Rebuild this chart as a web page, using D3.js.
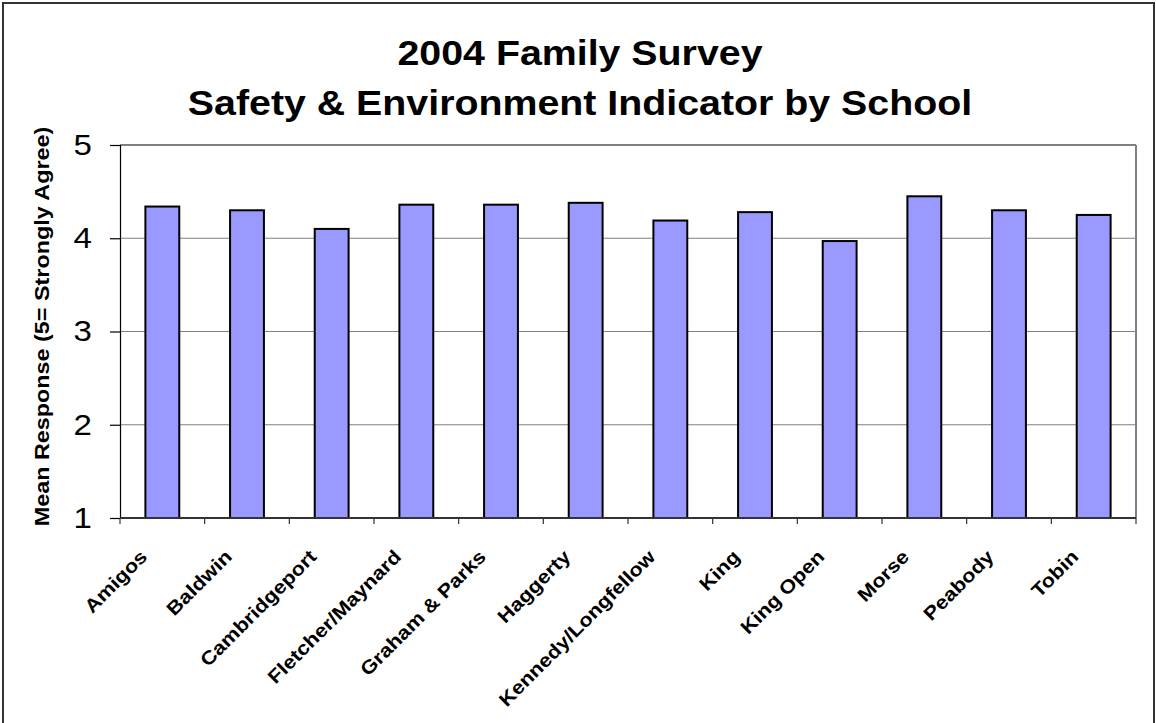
<!DOCTYPE html>
<html>
<head>
<meta charset="utf-8">
<script src="https://cdn.jsdelivr.net/npm/d3@7"></script>
<style>
  body { margin: 0; background: #fff; }
  svg { display: block; }
</style>
</head>
<body>
<div id="chart"></div>
<script>
// dữ liệu
const schools = ["Amigos", "Baldwin", "Cambridgeport", "Fletcher/Maynard", "Graham & Parks",
    "Haggerty", "Kennedy/Longfellow", "King", "King Open", "Morse", "Peabody", "Tobin"];
const meanResponse = [4.34, 4.30, 4.10, 4.36, 4.36, 4.38, 4.19, 4.28, 3.97, 4.45, 4.30, 4.25];
const yTicks = [1, 2, 3, 4, 5];
const titleLines = ["2004 Family Survey", "Safety & Environment Indicator by School"];

const width = 1156, height = 723;
const plot = { left: 120, right: 1136, top: 145, bottom: 518 };
const font = "'Liberation Sans', Arial, sans-serif";
// chữ trong ảnh gốc rộng hơn Arial một chút
const stretch = 1.14;

const svg = d3.select("#chart")
    .append("svg")
    .attr("width", width)
    .attr("height", height)
    .style("font-family", font);

// khung ngoài của chart
svg.append("rect")
    .attr("x", 3)
    .attr("y", 3)
    .attr("width", 1151)
    .attr("height", 740)
    .attr("fill", "#fff")
    .attr("stroke", "#333")
    .attr("stroke-width", 2);

const x = d3.scaleBand()
    .domain(schools)
    .range([plot.left, plot.right])
    .paddingInner(0.6)
    .paddingOuter(0.3);

const y = d3.scaleLinear()
    .domain([1, 5])
    .range([plot.bottom, plot.top]);

// đường lưới ngang
svg.append("g")
    .selectAll("line")
    .data(yTicks.slice(1))
    .enter()
    .append("line")
    .attr("x1", plot.left)
    .attr("x2", plot.right)
    .attr("y1", d => y(d))
    .attr("y2", d => y(d))
    .attr("stroke", "#808080")
    .attr("stroke-width", d => d === 5 ? 2 : 1.2);

// viền phải của vùng vẽ
svg.append("line")
    .attr("x1", plot.right)
    .attr("x2", plot.right)
    .attr("y1", plot.top)
    .attr("y2", plot.bottom)
    .attr("stroke", "#808080")
    .attr("stroke-width", 2);

// các cột
svg.append("g")
    .selectAll("rect")
    .data(schools)
    .enter()
    .append("rect")
    .attr("x", d => x(d))
    .attr("y", (d, i) => y(meanResponse[i]))
    .attr("width", x.bandwidth())
    .attr("height", (d, i) => y(1) - y(meanResponse[i]))
    .attr("fill", "#9999ff")
    .attr("stroke", "#000")
    .attr("stroke-width", 2);

// trục y
const yAxis = svg.append("g")
    .attr("transform", `translate(${plot.left},0)`)
    .call(d3.axisLeft(y).tickValues(yTicks).tickFormat(d3.format("d")).tickSize(10));
yAxis.select(".domain").attr("stroke", "#000").attr("stroke-width", 1.2);
yAxis.selectAll(".tick line").attr("stroke", "#000").attr("stroke-width", 1.2);
yAxis.selectAll(".tick text")
    .attr("x", 0)
    .attr("transform", `translate(-28,0) scale(${stretch},1)`)
    .style("font-family", font)
    .style("font-size", "29px")
    .attr("fill", "#000");

// trục x (chỉ vạch chia giữa các nhóm)
const step = x.step();
svg.append("line")
    .attr("x1", plot.left)
    .attr("x2", plot.right)
    .attr("y1", plot.bottom)
    .attr("y2", plot.bottom)
    .attr("stroke", "#333")
    .attr("stroke-width", 2);

svg.append("g")
    .selectAll("line")
    .data(d3.range(schools.length + 1))
    .enter()
    .append("line")
    .attr("x1", i => plot.left + i * step)
    .attr("x2", i => plot.left + i * step)
    .attr("y1", plot.bottom)
    .attr("y2", plot.bottom + 6)
    .attr("stroke", "#333")
    .attr("stroke-width", 1.2);

// nhãn trục x xoay 45 độ
svg.append("g")
    .selectAll("text")
    .data(schools)
    .enter()
    .append("text")
    .attr("transform", d => `translate(${x(d) + x.bandwidth() / 2 - 14}, 558) rotate(-45) scale(${stretch},1)`)
    .attr("text-anchor", "end")
    .style("font-size", "19px")
    .style("font-weight", "bold")
    .text(d => d);

// tiêu đề trục y
svg.append("text")
    .attr("transform", `translate(49, ${(plot.top + plot.bottom) / 2 - 5}) rotate(-90) scale(${stretch},1)`)
    .attr("text-anchor", "middle")
    .style("font-size", "20.5px")
    .style("font-weight", "bold")
    .text("Mean Response (5= Strongly Agree)");

// tiêu đề chart
svg.append("g")
    .selectAll("text")
    .data(titleLines)
    .enter()
    .append("text")
    .attr("transform", (d, i) => `translate(580, ${65 + i * 50}) scale(${stretch},1)`)
    .attr("text-anchor", "middle")
    .style("font-size", "34.5px")
    .style("font-weight", "bold")
    .text(d => d);
</script>
</body>
</html>
